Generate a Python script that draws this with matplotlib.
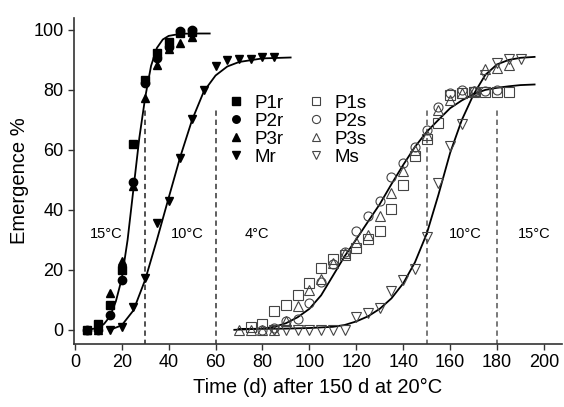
import matplotlib
matplotlib.use("Agg")
import matplotlib.pyplot as plt

plt.rcParams['font.family'] = ['Liberation Sans', 'DejaVu Sans']

# --- data ---
# roots, 15 then 10 degC
x_r = [5, 10, 15, 20, 25, 30, 35, 40, 45, 50]
p1r = [0, 2, 8.3, 20, 62, 83.3, 92.3, 96, 98.9, 99.2]
p2r = [0, 0, 5, 16.7, 49.4, 82.2, 90.6, 94.4, 99.8, 100]
p3r = [0, 0, 12.2, 22.8, 47.8, 77.2, 88.3, 93.5, 95.6, 97.8]

x_mr = [15, 20, 25, 30, 35, 40, 45, 50, 55, 60, 65, 70, 75, 80, 85]
mr = [0, 1.1, 7.6, 17.2, 35.6, 42.8, 57.2, 70.2, 79.8, 88, 90, 90.3, 90.3, 90.9, 90.9]

# shoots, 4 then 10 then 15 degC
x_p1s = [75, 80, 85, 90, 95, 100, 105, 110, 115, 120, 125, 130, 135, 140,
         145, 150, 155, 160, 165, 170, 175, 180, 185]
p1s = [1.1, 1.9, 6.4, 8.3, 11.7, 15.6, 20.5, 23.5, 25, 27.2, 30.2, 32.8, 40.2, 48.3,
       57.8, 63.6, 69.1, 78.3, 79, 79.4, 79.4, 79.4, 79.4]
x_p2s = [80, 85, 90, 95, 100, 105, 110, 115, 120, 125, 130, 135, 140,
         145, 150, 155, 160, 165, 170, 175, 180]
p2s = [0, 0.5, 3, 3.6, 9, 15.8, 22, 25.8, 33.1, 38, 43.1, 50.9, 55.6,
       60.9, 66.7, 74.4, 78.9, 80, 79.7, 79.7, 80]
x_p3s = [70, 75, 80, 85, 90, 95, 100, 105, 110, 115, 120, 125, 130, 135, 140,
         145, 150, 155, 160, 165, 170, 175, 180, 185]
p3s = [0, 0, 0, 0, 3, 8, 13.3, 17, 22.2, 25.5, 29.4, 31.7, 37.8, 45.6, 52.8,
       60, 65, 73.3, 76.7, 78.9, 79.5, 87, 87.2, 88.3]
x_ms = [85, 90, 95, 100, 105, 110, 115, 120, 125, 130, 135, 140, 145, 150,
        155, 160, 165, 170, 175, 180, 185, 190]
ms = [0, 0, 0, 0, 0, 0, 0, 4.2, 5.6, 7.2, 13, 16.7, 20.2, 30.9,
      49.1, 61.3, 68.6, 79.4, 85, 89, 90.2, 90.2]

# fitted curves
fit_r_x = [5, 10, 12.5, 15, 17.5, 20, 22.5, 25, 27.5, 30, 32.5, 35, 37.5, 40, 45, 50, 57.5]
fit_r_y = [0, 0.6, 2, 4.5, 9.5, 17, 30, 47, 64, 77.5, 88, 94, 96.8, 98, 98.7, 98.8, 98.8]
fit_mr_x = [15, 20, 25, 30, 35, 40, 45, 50, 55, 60, 65, 70, 80, 92]
fit_mr_y = [0, 1.5, 6.5, 16.7, 30, 44, 57.8, 70, 79.5, 84.8, 87.8, 89.3, 90.5, 90.8]
fit_s_x = [68, 80, 85, 90, 95, 100, 105, 110, 115, 120, 125, 130, 135, 140, 145,
           150, 155, 160, 165, 170, 175, 180, 185, 190, 196]
fit_s_y = [0, 0.4, 1, 2.2, 4.2, 7, 11.5, 18, 24.5, 30.2, 36.1, 41.9, 48.6, 55, 61,
           66, 70, 73.9, 76.5, 78.6, 80, 80.7, 81.2, 81.6, 81.8]
fit_ms_x = [70, 90, 100, 110, 115, 120, 125, 130, 135, 140, 145, 150, 155, 160,
            165, 170, 175, 180, 185, 190, 196]
fit_ms_y = [0.3, 0.4, 0.6, 1, 1.6, 2.8, 4.5, 7, 10.5, 15.5, 22.5, 32, 45, 59,
            70, 78.5, 85, 88.5, 90, 90.7, 91]

# temperature change days and labels
switch_days = [30, 60, 150, 180]
switch_cols = ['#222222', '#333333', '#555555', '#555555']
temp_labels = ['15°C', '10°C', '4°C', '10°C', '15°C']
temp_x = [13.2, 47.9, 77.6, 166.3, 195.9]
temp_y = 32

fig = plt.figure(figsize=(5.64, 4.07), dpi=100)
ax = fig.add_axes([0.131, 0.155, 0.8655, 0.801])

for xs, c in zip(switch_days, switch_cols):
    ax.plot([xs, xs], [-5, 74], color=c, lw=1.1,
            linestyle=(0, (3.5, 2.5)), zorder=1)

for fx, fy in [(fit_r_x, fit_r_y), (fit_mr_x, fit_mr_y),
               (fit_s_x, fit_s_y), (fit_ms_x, fit_ms_y)]:
    ax.plot(fx, fy, color='black', lw=1.3, zorder=2)

ms_size = 6
filled = dict(color='black', linestyle='none', markersize=ms_size, zorder=3)
opened = dict(color='#444444', mfc='none', mew=0.8, linestyle='none',
              markersize=ms_size + 0.5, zorder=3)

h1, = ax.plot(x_r, p1r, marker='s', label='P1r', **filled)
h2, = ax.plot(x_r, p2r, marker='o', label='P2r', **filled)
h3, = ax.plot(x_r, p3r, marker='^', label='P3r', **filled)
h4, = ax.plot(x_mr, mr, marker='v', label='Mr', **filled)
h5, = ax.plot(x_p1s, p1s, marker='s', label='P1s', **opened)
h6, = ax.plot(x_p2s, p2s, marker='o', label='P2s', **opened)
h7, = ax.plot(x_p3s, p3s, marker='^', label='P3s', **opened)
h8, = ax.plot(x_ms, ms, marker='v', label='Ms', **opened)

for lab, tx in zip(temp_labels, temp_x):
    ax.text(tx, temp_y, lab, ha='center', va='center', fontsize=10.5)

ax.legend(handles=[h1, h2, h3, h4, h5, h6, h7, h8], ncol=2, frameon=False,
          loc='upper left', bbox_to_anchor=(0.317, 0.765), fontsize=13.5,
          handlelength=0.8, handletextpad=0.6, columnspacing=1.3,
          labelspacing=0.05, borderpad=0, borderaxespad=0, markerscale=0.9)

ax.set_xlim(-0.4, 207.7)
ax.set_ylim(-4.7, 104)
ax.set_xticks(range(0, 201, 20))
ax.set_yticks(range(0, 101, 20))
ax.tick_params(labelsize=13, length=4, width=1, color='#333333', direction='out')
for side in ['top', 'right']:
    ax.spines[side].set_visible(False)
for side in ['left', 'bottom']:
    ax.spines[side].set_color('#333333')
    ax.spines[side].set_linewidth(1.2)

ax.set_xlabel('Time (d) after 150 d at 20°C', fontsize=14.5, labelpad=5)
ax.set_ylabel('Emergence %', fontsize=14.5, labelpad=3)

fig.savefig('out.png', dpi=100)
